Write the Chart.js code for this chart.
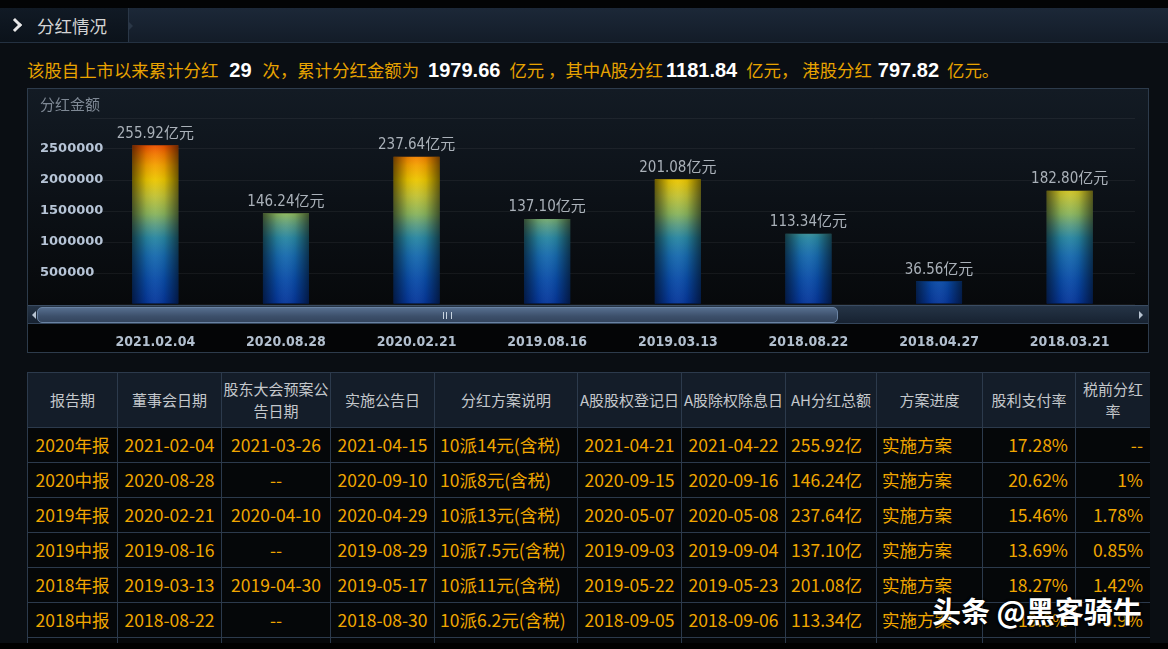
<!DOCTYPE html>
<html><head><meta charset="utf-8">
<script src="https://cdn.jsdelivr.net/npm/chart.js@4/dist/chart.umd.min.js"></script>
<style>
html,body{margin:0;padding:0;}
body{width:1168px;height:649px;overflow:hidden;background:#0a0e13;position:relative;font-family:"Noto Sans CJK SC",sans-serif;}
#topblack{position:absolute;left:0;top:0;width:1168px;height:8px;background:#030405;}
#band{position:absolute;left:0;top:8px;width:1168px;height:34px;background:linear-gradient(#1c2838,#131c28);border-bottom:1px solid #243141;}
#tab{position:absolute;left:0;top:8px;width:128px;height:34px;background:linear-gradient(#111a25,#0b121a);border-right:1px solid #2a3747;}
#tabarrow{position:absolute;left:128px;top:21px;width:0;height:0;border-top:5px solid transparent;border-bottom:5px solid transparent;border-left:5px solid #2a3747;}
#chev{position:absolute;left:10px;top:12px;width:7px;height:7px;border-right:3px solid #e8e8e8;border-top:3px solid #e8e8e8;transform:rotate(45deg);}
#tabtxt{position:absolute;left:37px;top:6px;font-size:17.5px;color:#d4d4d4;line-height:24px;}
#summary{position:absolute;left:27px;top:57px;font-size:17.4px;color:#e8a300;line-height:26px;white-space:nowrap;}
#summary b{color:#ffffff;font-family:"Liberation Sans",sans-serif;font-size:20px;font-weight:bold;}
#summary b.n1{margin:0 11px 0 11px;}
#summary b.n2{margin:0 9px 0 9px;}
#summary b.n3{margin:0 9px 0 3px;}
#summary b.n4{margin:0 8px 0 6px;}
#panel{position:absolute;left:27px;top:88px;width:1120px;height:263px;border:1px solid #2d3b4b;
 background:linear-gradient(to bottom,#131b24 0px,#0c1117 110px,#07090b 216px,#040506 216px,#040506 100%);}
#cv{position:absolute;left:0;top:0;}
#ytitle{position:absolute;left:12px;top:5px;font-size:15px;color:#7e8894;line-height:20px;}
#track{position:absolute;left:0;top:216px;width:1120px;height:19px;background:linear-gradient(#253446,#172231);border-top:1px solid #3a4c62;border-bottom:1px solid #34455a;box-sizing:border-box;}
#thumb{position:absolute;left:9px;top:218px;width:801px;height:16px;border-radius:5px;background:linear-gradient(#566e8e,#3c4f6a 60%,#33445c);border:1px solid #6a83a3;box-sizing:border-box;}
#grip{position:absolute;left:405px;top:4px;width:7px;height:7px;border-left:1px solid #c8d4e0;border-right:1px solid #c8d4e0;}
#grip:after{content:"";position:absolute;left:2px;top:0;width:1px;height:7px;background:#c8d4e0;}
#la{position:absolute;left:4px;top:222px;width:0;height:0;border-top:4px solid transparent;border-bottom:4px solid transparent;border-right:4px solid #b8c4d2;}
#ra{position:absolute;left:1111px;top:222px;width:0;height:0;border-top:4px solid transparent;border-bottom:4px solid transparent;border-left:4px solid #b8c4d2;}
#tblwrap{position:absolute;left:27px;top:372px;width:1123px;height:271px;overflow:hidden;}
table{border-collapse:collapse;table-layout:fixed;width:1123px;}
td,th{border:1px solid #2c3a4c;padding:0;white-space:nowrap;overflow:visible;}
th{background:#141d29;color:#c4c8cc;font-weight:normal;font-size:15px;line-height:22px;height:54px;text-align:center;}
td{background:#050709;color:#f0a600;font-size:17.5px;height:34px;line-height:34px;text-align:center;}
td.l{text-align:left;padding-left:5px;}
td.r{text-align:right;padding-right:7px;}
#bottomblack{position:absolute;left:0;top:643px;width:1168px;height:6px;background:#000;}
#wm{position:absolute;left:932px;top:590px;font-size:29px;font-weight:bold;color:#ffffff;line-height:40px;white-space:nowrap;text-shadow:0 0 3px #000,0 0 2px #000;}
</style></head>
<body>
<div id="topblack"></div>
<div id="band"></div>
<div id="tab"><div id="chev"></div><div id="tabtxt">分红情况</div></div>
<div id="tabarrow"></div>
<div id="summary"></div>
<div id="panel">
  <canvas id="cv" width="1120" height="263"></canvas>
  <div id="ytitle">分红金额</div>
  <div id="track"></div>
  <div id="thumb"><div id="grip"></div></div>
  <div id="la"></div><div id="ra"></div>
</div>
<div id="tblwrap"><table id="tbl"></table></div>
<div id="bottomblack"></div>
<div id="wm">头条 @黑客骑牛</div>
<script>
// ---- chart data ----
const barDates = ['2021.02.04','2020.08.28','2020.02.21','2019.08.16','2019.03.13','2018.08.22','2018.04.27','2018.03.21'];
const barValues = [2559200,1462400,2376400,1371000,2010800,1133400,365600,1828000]; // 万元
const barLabels = ['255.92亿元','146.24亿元','237.64亿元','137.10亿元','201.08亿元','113.34亿元','36.56亿元','182.80亿元'];
const yTicksShown = [500000,1000000,1500000,2000000,2500000];

// ---- summary ----
const dividendCount = '29';
const totalAmount = '1979.66';
const aShareAmount = '1181.84';
const hShareAmount = '797.82';

// ---- table data ----
const headers = ['报告期','董事会日期','股东大会预案公<br>告日期','实施公告日','分红方案说明','A股股权登记日','A股除权除息日','AH分红总额','方案进度','股利支付率','税前分红<br>率'];
const colWidths = [90,104,109,104,143,104,104,91,106,93,75];
const colAlign = ['','','','','l','','','l','l','r','r'];
const reportPeriods = ['2020年报','2020中报','2019年报','2019中报','2018年报','2018中报'];
const boardDates = ['2021-02-04','2020-08-28','2020-02-21','2019-08-16','2019-03-13','2018-08-22'];
const agmDates = ['2021-03-26','--','2020-04-10','--','2019-04-30','--'];
const implDates = ['2021-04-15','2020-09-10','2020-04-29','2019-08-29','2019-05-17','2018-08-30'];
const plans = ['10派14元(含税)','10派8元(含税)','10派13元(含税)','10派7.5元(含税)','10派11元(含税)','10派6.2元(含税)'];
const regDates = ['2021-04-21','2020-09-15','2020-05-07','2019-09-03','2019-05-22','2018-09-05'];
const exDates = ['2021-04-22','2020-09-16','2020-05-08','2019-09-04','2019-05-23','2018-09-06'];
const ahTotals = ['255.92亿','146.24亿','237.64亿','137.10亿','201.08亿','113.34亿'];
const progress = ['实施方案','实施方案','实施方案','实施方案','实施方案','实施方案'];
const payoutRatios = ['17.28%','20.62%','15.46%','13.69%','18.27%','19.0%'];
const pretaxYields = ['--','1%','1.78%','0.85%','1.42%','0.9%'];

document.getElementById('summary').innerHTML =
  '该股自上市以来累计分红<b class="n1">'+dividendCount+'</b>次，累计分红金额为<b class="n2">'+totalAmount+'</b>亿元 ，其中A股分红<b class="n3">'+aShareAmount+'</b>亿元， 港股分红<b class="n4">'+hShareAmount+'</b>亿元。';

// build table
(function(){
  const t = document.getElementById('tbl');
  let h = '<colgroup>'+colWidths.map(w=>'<col style="width:'+w+'px">').join('')+'</colgroup>';
  h += '<tr>'+headers.map(x=>'<th>'+x+'</th>').join('')+'</tr>';
  const cols = [reportPeriods,boardDates,agmDates,implDates,plans,regDates,exDates,ahTotals,progress,payoutRatios,pretaxYields];
  for(let i=0;i<reportPeriods.length;i++){
    h += '<tr>'+cols.map((c,j)=>'<td class="'+colAlign[j]+'">'+c[i]+'</td>').join('')+'</tr>';
  }
  h += '<tr>'+cols.map(()=>'<td></td>').join('')+'</tr>';
  t.innerHTML = h;
})();

function barGradient(ctx){
  const chart = ctx.chart;
  const ca = chart.chartArea;
  if(!ca) return '#0a4aa0';
  const y = chart.scales.y;
  const y0 = y.getPixelForValue(0), y1 = y.getPixelForValue(2600000);
  const g = chart.ctx.createLinearGradient(0,y0,0,y1);
  g.addColorStop(0.00,'#06369a');
  g.addColorStop(0.15,'#0a4ca8');
  g.addColorStop(0.30,'#176aae');
  g.addColorStop(0.41,'#2886a2');
  g.addColorStop(0.49,'#5a9c82');
  g.addColorStop(0.56,'#8ab45c');
  g.addColorStop(0.67,'#c2c234');
  g.addColorStop(0.77,'#ecc600');
  g.addColorStop(0.86,'#f4a200');
  g.addColorStop(0.93,'#f27800');
  g.addColorStop(1.00,'#ea4600');
  return g;
}

const barShade = {
  id:'barShade',
  afterDatasetsDraw(chart){
    const c = chart.ctx;
    const meta = chart.getDatasetMeta(0);
    meta.data.forEach((bar,i)=>{
      const w = bar.width, left = bar.x - w/2, top = bar.y, h = bar.base - bar.y;
      const g = c.createLinearGradient(left,0,left+w,0);
      g.addColorStop(0,'rgba(0,0,0,0.55)');
      g.addColorStop(0.3,'rgba(0,0,0,0.08)');
      g.addColorStop(0.5,'rgba(255,255,255,0.04)');
      g.addColorStop(0.7,'rgba(0,0,0,0.08)');
      g.addColorStop(1,'rgba(0,0,0,0.55)');
      c.save(); c.fillStyle = g; c.fillRect(left,top,w,h); c.restore();
      c.save();
      c.font = '15px "DejaVu Sans Condensed","Noto Sans CJK SC",sans-serif';
      c.fillStyle = '#aab1b9';
      c.textAlign = 'center'; c.textBaseline = 'bottom';
      c.fillText(barLabels[i], bar.x, bar.y - 4);
      c.restore();
    });
  }
};

new Chart(document.getElementById('cv'), {
  type:'bar',
  data:{labels:barDates, datasets:[{data:barValues, backgroundColor:barGradient, borderWidth:0, barPercentage:0.352, categoryPercentage:1}]},
  options:{
    responsive:false, animation:false, devicePixelRatio:1,
    layout:{padding:{left:62,right:13,top:29,bottom:0}},
    plugins:{legend:{display:false}, tooltip:{enabled:false}, title:{display:false}},
    scales:{
      x:{offset:true, grid:{display:false, drawTicks:false}, border:{display:false},
         ticks:{padding:30, color:'#b2bfce', maxRotation:0, autoSkip:false,
                font:{family:'"DejaVu Sans Condensed"', size:14, weight:'bold'}},
         afterFit(s){ s.height = 48; }},
      y:{min:0, max:3000000, grid:{color:'rgba(255,255,255,0.055)', drawTicks:false}, border:{display:false},
         ticks:{stepSize:500000, mirror:true, padding:-50, color:'#b6c4d6',
                font:{family:'"DejaVu Sans"', size:13, weight:'bold'},
                callback:(v)=> yTicksShown.includes(v) ? String(v) : ''},
         afterFit(s){ s.width = 0; }}
    }
  },
  plugins:[barShade]
});
</script>
</body></html>
